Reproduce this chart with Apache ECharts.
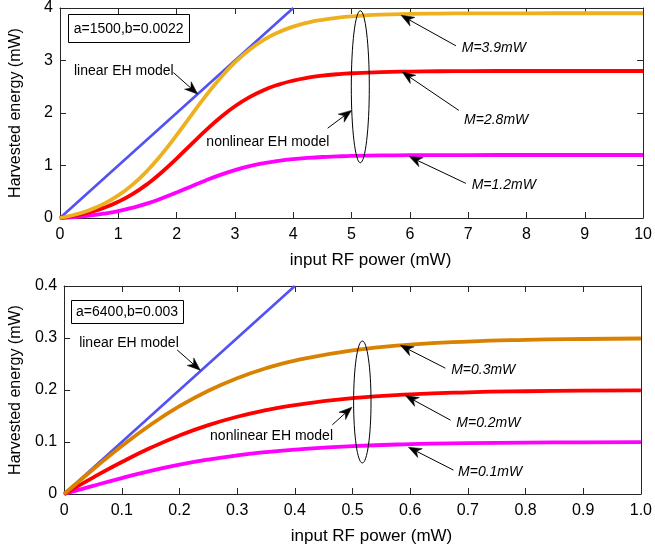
<!DOCTYPE html>
<html>
<head>
<meta charset="utf-8">
<script src="https://cdn.jsdelivr.net/npm/echarts@6/dist/echarts.min.js"></script>
<style>
  html, body { margin: 0; padding: 0; background: #ffffff; }
  #chart { width: 655px; height: 547px; }
</style>
</head>
<body>
<div id="chart"></div>
<script>
// ---- Upper panel: a=1500, b=0.0022, input power 0..10 mW ----
const topPower = [0, 0.25, 0.5, 0.75, 1, 1.25, 1.5, 1.75, 2, 2.25, 2.5, 2.75, 3, 3.25, 3.5, 3.75, 4, 4.25, 4.5, 4.75, 5, 5.5, 6, 6.5, 7, 8, 9, 10];
const topM39 = [0, 0.062, 0.149, 0.269, 0.430, 0.640, 0.904, 1.221, 1.577, 1.954, 2.326, 2.668, 2.964, 3.207, 3.397, 3.540, 3.645, 3.722, 3.776, 3.814, 3.840, 3.872, 3.887, 3.894, 3.897, 3.899, 3.900, 3.900];
const topM28 = [0, 0.045, 0.107, 0.193, 0.309, 0.460, 0.649, 0.876, 1.132, 1.403, 1.670, 1.915, 2.128, 2.302, 2.439, 2.541, 2.617, 2.672, 2.711, 2.738, 2.757, 2.780, 2.790, 2.795, 2.798, 2.800, 2.800, 2.800];
const topM12 = [0, 0.019, 0.046, 0.083, 0.132, 0.197, 0.278, 0.376, 0.485, 0.601, 0.716, 0.821, 0.912, 0.987, 1.045, 1.089, 1.122, 1.145, 1.162, 1.173, 1.182, 1.191, 1.196, 1.198, 1.199, 1.200, 1.200, 1.200];
const topLinearPower = [0, 4];
const topLinear = [0, 4];
const topXTicks = ['0', '1', '2', '3', '4', '5', '6', '7', '8', '9', '10'];
const topYTicks = ['0', '1', '2', '3', '4'];

// ---- Lower panel: a=6400, b=0.003, input power 0..1 mW ----
const botPower = [0, 0.05, 0.1, 0.15, 0.2, 0.25, 0.3, 0.35, 0.4, 0.5, 0.6, 0.7, 0.8, 0.9, 1.0];
const botM03 = [0, 0.0472, 0.0922, 0.1332, 0.1688, 0.1986, 0.2227, 0.2418, 0.2566, 0.2763, 0.2873, 0.2932, 0.2964, 0.2981, 0.2990];
const botM02 = [0, 0.0315, 0.0615, 0.0888, 0.1125, 0.1324, 0.1485, 0.1612, 0.1711, 0.1842, 0.1915, 0.1955, 0.1976, 0.1987, 0.1993];
const botM01 = [0, 0.0157, 0.0307, 0.0444, 0.0563, 0.0662, 0.0742, 0.0806, 0.0855, 0.0921, 0.0958, 0.0977, 0.0988, 0.0994, 0.0997];
const botLinearPower = [0, 0.4];
const botLinear = [0, 0.4];
const botXTicks = ['0', '0.1', '0.2', '0.3', '0.4', '0.5', '0.6', '0.7', '0.8', '0.9', '1.0'];
const botYTicks = ['0', '0.1', '0.2', '0.3', '0.4'];

const FONT = '"Liberation Sans", Arial, Helvetica, sans-serif';
const AXIS_COLOR = '#262626';
const C_LINEAR = '#5252f2';
const C_YELLOW = '#edb120';
const C_ORANGE = '#d98100';
const C_RED = '#ff0000';
const C_MAGENTA = '#ff00ff';

function pairs(xs, ys) { return xs.map((x, i) => [x, ys[i]]); }

function tickLabel(ticks, min, step) {
  return v => ticks[Math.round((v - min) / step)] || '';
}

function mainX(gridIndex, max, step, ticks) {
  return {
    type: 'value', gridIndex, position: 'bottom', min: 0, max, interval: step,
    name: 'input RF power (mW)', nameLocation: 'middle', nameGap: 34,
    nameTextStyle: { fontFamily: FONT, fontSize: 17, color: '#000', padding: [0, 0, 0, 38] },
    axisLine: { show: true, onZero: false, lineStyle: { color: AXIS_COLOR, width: 1 } },
    axisTick: { show: true, inside: true, length: 6, lineStyle: { color: AXIS_COLOR } },
    axisLabel: { fontFamily: FONT, fontSize: 16, color: '#000', margin: 9, formatter: tickLabel(ticks, 0, step) },
    splitLine: { show: false }
  };
}
function mirrorX(gridIndex, max, step) {
  return {
    type: 'value', gridIndex, position: 'top', min: 0, max, interval: step,
    axisLine: { show: true, onZero: false, lineStyle: { color: AXIS_COLOR, width: 1 } },
    axisTick: { show: true, inside: true, length: 6, lineStyle: { color: AXIS_COLOR } },
    axisLabel: { show: false }, splitLine: { show: false }
  };
}
function mainY(gridIndex, max, step, ticks) {
  return {
    type: 'value', gridIndex, position: 'left', min: 0, max, interval: step,
    name: 'Harvested energy (mW)', nameLocation: 'middle', nameGap: 36,
    nameTextStyle: { fontFamily: FONT, fontSize: 16, color: '#000' },
    axisLine: { show: true, onZero: false, lineStyle: { color: AXIS_COLOR, width: 1 } },
    axisTick: { show: true, inside: true, length: 6, lineStyle: { color: AXIS_COLOR } },
    axisLabel: { fontFamily: FONT, fontSize: 16, color: '#000', margin: 7, formatter: tickLabel(ticks, 0, step) },
    splitLine: { show: false }
  };
}
function mirrorY(gridIndex, max, step) {
  return {
    type: 'value', gridIndex, position: 'right', min: 0, max, interval: step,
    axisLine: { show: true, onZero: false, lineStyle: { color: AXIS_COLOR, width: 1 } },
    axisTick: { show: true, inside: true, length: 6, lineStyle: { color: AXIS_COLOR } },
    axisLabel: { show: false }, splitLine: { show: false }
  };
}
function curve(xi, yi, data, color, width) {
  return {
    type: 'line', xAxisIndex: xi, yAxisIndex: yi, data, showSymbol: false,
    smooth: 0.5, silent: true,
    lineStyle: { color, width, cap: 'butt' }
  };
}

const chart = echarts.init(document.getElementById('chart'), null, { renderer: 'canvas' });

chart.setOption({
  animation: false,
  backgroundColor: '#ffffff',
  grid: [
    { left: 59, top: 7, width: 586, height: 211, containLabel: false },
    { left: 63, top: 286, width: 581, height: 208, containLabel: false }
  ],
  xAxis: [
    mainX(0, 10, 1, topXTicks), mirrorX(0, 10, 1),
    mainX(1, 1, 0.1, botXTicks), mirrorX(1, 1, 0.1)
  ],
  yAxis: [
    mainY(0, 4, 1, topYTicks), mirrorY(0, 4, 1),
    mainY(1, 0.4, 0.1, botYTicks), mirrorY(1, 0.4, 0.1)
  ],
  series: [
    curve(0, 0, pairs(topLinearPower, topLinear), C_LINEAR, 2.6),
    curve(0, 0, pairs(topPower, topM12), C_MAGENTA, 3.8),
    curve(0, 0, pairs(topPower, topM28), C_RED, 3.8),
    curve(0, 0, pairs(topPower, topM39), C_YELLOW, 3.8),
    curve(2, 2, pairs(botLinearPower, botLinear), C_LINEAR, 2.6),
    curve(2, 2, pairs(botPower, botM01), C_MAGENTA, 3.8),
    curve(2, 2, pairs(botPower, botM02), C_RED, 3.8),
    curve(2, 2, pairs(botPower, botM03), C_ORANGE, 3.8)
  ]
});

// ---- Annotations: boxes, labels, arrows and the ellipse, placed in data space ----
const annotations = [
  {
    grid: 0,
    box: { text: 'a=1500,b=0.0022', at: [0.14, 3.88], w: 121, h: 28 },
    labels: [
      { text: 'linear EH model', at: [0.24, 2.79], italic: false },
      { text: 'nonlinear EH model', at: [2.51, 1.44], italic: false },
      { text: 'M=3.9mW', at: [6.89, 3.24], italic: true },
      { text: 'M=2.8mW', at: [6.93, 1.86], italic: true },
      { text: 'M=1.2mW', at: [7.06, 0.63], italic: true }
    ],
    arrows: [
      { from: [1.945, 2.77], to: [2.36, 2.36] },
      { from: [4.59, 1.71], to: [5.0, 2.05] },
      { from: [6.79, 3.28], to: [5.85, 3.86] },
      { from: [6.84, 2.05], to: [5.87, 2.78] },
      { from: [6.96, 0.66], to: [5.99, 1.17] }
    ],
    ellipse: { at: [5.15, 2.50], rx: 9, ry: 76 }
  },
  {
    grid: 1,
    box: { text: 'a=6400,b=0.003', at: [0.012, 0.373], w: 112, h: 23 },
    labels: [
      { text: 'linear EH model', at: [0.026, 0.290], italic: false },
      { text: 'nonlinear EH model', at: [0.253, 0.1115], italic: false },
      { text: 'M=0.3mW', at: [0.671, 0.238], italic: true },
      { text: 'M=0.2mW', at: [0.680, 0.1365], italic: true },
      { text: 'M=0.1mW', at: [0.683, 0.042], italic: true }
    ],
    arrows: [
      { from: [0.196, 0.277], to: [0.236, 0.238] },
      { from: [0.465, 0.133], to: [0.499, 0.167] },
      { from: [0.661, 0.242], to: [0.583, 0.286] },
      { from: [0.670, 0.142], to: [0.592, 0.189] },
      { from: [0.675, 0.046], to: [0.597, 0.090] }
    ],
    ellipse: { at: [0.517, 0.177], rx: 8.7, ry: 61 }
  }
];

function px(grid, pt) { return chart.convertToPixel({ gridIndex: grid }, pt); }

function textEl(text, x, y, italic, align) {
  return {
    type: 'text', x, y, silent: true, z: 10,
    style: {
      text, fill: '#000', fontSize: 14, fontFamily: FONT, fontStyle: italic ? 'italic' : 'normal',
      align: align, verticalAlign: 'middle', textAlign: align, textVerticalAlign: 'middle'
    }
  };
}

function arrowEls(tail, tip) {
  const dx = tip[0] - tail[0], dy = tip[1] - tail[1];
  const len = Math.hypot(dx, dy);
  const ux = dx / len, uy = dy / len, nx = -uy, ny = ux;
  const L = 13, W = 5, N = 9;
  const bx = tip[0] - ux * L, by = tip[1] - uy * L;
  const notch = [tip[0] - ux * N, tip[1] - uy * N];
  return [
    { type: 'line', silent: true, z: 10,
      shape: { x1: tail[0], y1: tail[1], x2: notch[0], y2: notch[1] },
      style: { stroke: '#000', lineWidth: 1 } },
    { type: 'polygon', silent: true, z: 10,
      shape: { points: [tip, [bx + nx * W, by + ny * W], notch, [bx - nx * W, by - ny * W]] },
      style: { fill: '#000', stroke: '#000', lineWidth: 0.5 } }
  ];
}

const elements = [];
annotations.forEach(a => {
  const b = px(a.grid, a.box.at);
  elements.push({ type: 'rect', silent: true, z: 10,
    shape: { x: Math.round(b[0]) + 0.5, y: Math.round(b[1]) + 0.5, width: a.box.w, height: a.box.h },
    style: { fill: '#fff', stroke: '#000', lineWidth: 1 } });
  elements.push(textEl(a.box.text, b[0] + a.box.w / 2, b[1] + a.box.h / 2 + 0.5, false, 'center'));
  a.labels.forEach(l => {
    const p = px(a.grid, l.at);
    elements.push(textEl(l.text, p[0], p[1], l.italic, 'left'));
  });
  a.arrows.forEach(ar => {
    elements.push(...arrowEls(px(a.grid, ar.from), px(a.grid, ar.to)));
  });
  const c = px(a.grid, a.ellipse.at);
  elements.push({ type: 'ellipse', silent: true, z: 10,
    shape: { cx: c[0], cy: c[1], rx: a.ellipse.rx, ry: a.ellipse.ry },
    style: { fill: 'none', stroke: '#000', lineWidth: 1 } });
});

chart.setOption({ graphic: { elements } });
</script>
</body>
</html>
